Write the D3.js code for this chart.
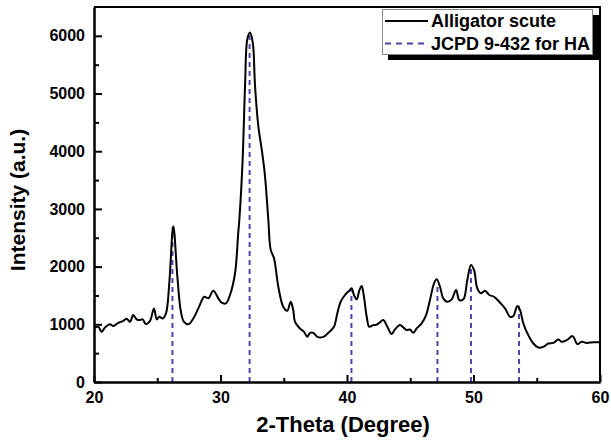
<!DOCTYPE html>
<html>
<head>
<meta charset="utf-8">
<script src="https://cdn.jsdelivr.net/npm/d3@7"></script>
<style>
  body { margin: 0; background: #fff; }
  text { font-family: Arial, "Liberation Sans", sans-serif; font-weight: bold; }
</style>
</head>
<body>
<div id="chart"></div>
<script>
// XRD pattern of alligator scute with HA reference lines

let twoTheta = [20, 20.34, 20.6, 20.87, 21.26, 21.53, 21.92, 22.32, 22.58, 22.85, 23.1, 23.37, 23.64, 23.85,
  24.1, 24.43, 24.74, 24.96, 25.16, 25.43, 25.69, 25.95, 26.27, 26.59, 26.85, 27.11, 27.49, 27.85, 28.25,
  28.72, 29.04, 29.43, 29.83, 30.09, 30.43, 30.75, 31.15, 31.4, 31.49, 31.75, 31.94, 32.12, 32.33, 32.55,
  32.73, 32.99, 33.26, 33.52, 33.78, 33.97, 34.23, 34.57, 34.96, 35.28, 35.55, 35.75, 35.89, 36.28, 36.6,
  36.86, 37.07, 37.34, 37.65, 38.13, 38.52, 38.97, 39.23, 39.5, 39.84, 40.18, 40.37, 40.55, 40.77, 40.97,
  41.16, 41.34, 41.56, 41.76, 42.08, 42.3, 42.55, 42.87, 43.19, 43.53, 43.79, 44.19, 44.45, 44.72, 44.98,
  45.24, 45.51, 45.9, 46.25, 46.56, 46.88, 47.09, 47.35, 47.61, 47.93, 48.28, 48.62, 48.88, 49.2, 49.51,
  49.8, 50.04, 50.3, 50.59, 50.91, 51.25, 51.62, 51.96, 52.1, 52.49, 52.89, 53.15, 53.46, 53.68, 53.94,
  54.33, 54.73, 55.12, 55.52, 55.91, 56.31, 56.7, 56.97, 57.37, 57.84, 58.21, 58.55, 58.95, 59.47, 60]
let intensity = [930, 957, 870, 946, 1003, 969, 1026, 1061, 1096, 1043, 1160, 1085, 1073, 1085,
  1003, 1061, 1276, 1085, 1130, 1102, 1189, 1711, 2700, 1826, 1247, 1043, 1003, 1102, 1276,
  1478, 1450, 1583, 1450, 1374, 1363, 1508, 1885, 2581, 2812, 3855, 5130, 5942, 6059, 5885,
  5130, 4434, 4029, 3565, 2812, 2290, 2146, 1652, 1304, 1235, 1391, 1247, 1043, 928, 870,
  783, 852, 852, 783, 783, 852, 957, 1189, 1391, 1508, 1583, 1624, 1508, 1433, 1583,
  1664, 1478, 1130, 957, 986, 990, 1026, 1073, 957, 830, 911, 986, 946, 899, 911,
  852, 928, 1015, 1160, 1421, 1711, 1781, 1652, 1450, 1391, 1433, 1595, 1421, 1433, 1769,
  2029, 1943, 1624, 1537, 1583, 1508, 1478, 1409, 1374, 1276, 1130, 1143, 1317, 1247, 1015,
  812, 667, 598, 609, 667, 678, 737, 696, 725, 795, 656, 696, 678, 690, 690]

// JCPD 9-432 reference positions and the heights their lines reach
let haPos = [26.2, 32.3, 40.35, 47.15, 49.8, 53.6]
let haTop = [2680, 6020, 1590, 1700, 2000, 1320]

let xTicks = [20, 30, 40, 50, 60]
let xMinor = [25, 35, 45, 55]
let yTicks = [0, 1000, 2000, 3000, 4000, 5000, 6000]
let yMinor = [500, 1500, 2500, 3500, 4500, 5500]

let legendLabels = ["Alligator scute", "JCPD 9-432 for HA"]

let W = 611, H = 441
let plotL = 94, plotT = 7, plotR = 600, plotB = 382
let dashColor = "#4b45ab"

let svg = d3.select("#chart").append("svg")
  .attr("width", W)
  .attr("height", H)

let x = d3.scaleLinear().domain([20, 60]).range([plotL, plotR])
let y = d3.scaleLinear().domain([0, 6500]).range([plotB, plotT])

// reference lines
svg.append("g")
  .selectAll("line")
  .data(haPos)
  .enter()
  .append("line")
  .attr("x1", d => x(d))
  .attr("x2", d => x(d))
  .attr("y1", y(0))
  .attr("y2", (d, i) => y(haTop[i]))
  .attr("stroke", dashColor)
  .attr("stroke-width", 2)
  .attr("stroke-dasharray", "5,4")

// pattern
let pts = twoTheta.map((d, i) => [d, intensity[i]])
let line = d3.line()
  .x(d => x(d[0]))
  .y(d => y(d[1]))
  .curve(d3.curveCatmullRom.alpha(0.5))

svg.append("path")
  .datum(pts)
  .attr("d", line)
  .attr("fill", "none")
  .attr("stroke", "#000")
  .attr("stroke-width", 2)
  .attr("stroke-linejoin", "round")

// axes, ticks inside
let fmt = d3.format("d")
let xAxis = d3.axisBottom(x).tickValues(xTicks).tickFormat(fmt).tickSize(-7).tickPadding(10).tickSizeOuter(0)
let xAxisMinor = d3.axisBottom(x).tickValues(xMinor).tickSize(-4).tickFormat("").tickSizeOuter(0)
let yAxis = d3.axisLeft(y).tickValues(yTicks).tickFormat(fmt).tickSize(-8).tickPadding(9).tickSizeOuter(0)
let yAxisMinor = d3.axisLeft(y).tickValues(yMinor).tickSize(-5).tickFormat("").tickSizeOuter(0)

function styleAxis(g) {
  g.select(".domain").attr("stroke-width", 2)
  g.selectAll(".tick line").attr("stroke-width", 2)
  g.selectAll(".tick text").attr("fill", "#000")
    .style("font-size", "16px")
    .style("font-family", "Arial, 'Liberation Sans', sans-serif")
    .style("font-weight", "bold")
}

svg.append("g").attr("transform", `translate(0,${plotB})`).call(xAxisMinor).call(styleAxis)
svg.append("g").attr("transform", `translate(0,${plotB})`).call(xAxis).call(styleAxis)
svg.append("g").attr("transform", `translate(${plotL},0)`).call(yAxisMinor).call(styleAxis)
svg.append("g").attr("transform", `translate(${plotL},0)`).call(yAxis).call(styleAxis)

// top and right edges of the frame
svg.append("path")
  .attr("d", `M${plotL},${plotT}H${plotR}V${plotB}`)
  .attr("fill", "none")
  .attr("stroke", "#000")
  .attr("stroke-width", 2)

// axis titles
svg.append("text")
  .attr("x", 343)
  .attr("y", 432)
  .attr("text-anchor", "middle")
  .style("font-size", "22px")
  .text("2-Theta (Degree)")

svg.append("text")
  .attr("transform", "translate(25,200) rotate(-90)")
  .attr("text-anchor", "middle")
  .style("font-size", "21px")
  .text("Intensity (a.u.)")

// legend with drop shadow
let lg = svg.append("g")
lg.append("rect")
  .attr("x", 388).attr("y", 15)
  .attr("width", 211).attr("height", 45)
  .attr("fill", "#000")
lg.append("rect")
  .attr("x", 382.5).attr("y", 9.5)
  .attr("width", 210).attr("height", 45)
  .attr("fill", "#fff")
  .attr("stroke", "#888")
  .attr("stroke-width", 1)

lg.selectAll(".sample")
  .data(legendLabels)
  .enter()
  .append("line")
  .attr("x1", 385)
  .attr("x2", (d, i) => i == 0 ? 428 : 424)
  .attr("y1", (d, i) => 21 + i * 22.5)
  .attr("y2", (d, i) => 21 + i * 22.5)
  .attr("stroke", (d, i) => i == 0 ? "#000" : dashColor)
  .attr("stroke-width", 2)
  .attr("stroke-dasharray", (d, i) => i == 0 ? null : "6,5")

lg.selectAll(".label")
  .data(legendLabels)
  .enter()
  .append("text")
  .attr("x", 431)
  .attr("y", (d, i) => 27 + i * 22.5)
  .style("font-size", "18px")
  .text(d => d)
</script>
</body>
</html>
